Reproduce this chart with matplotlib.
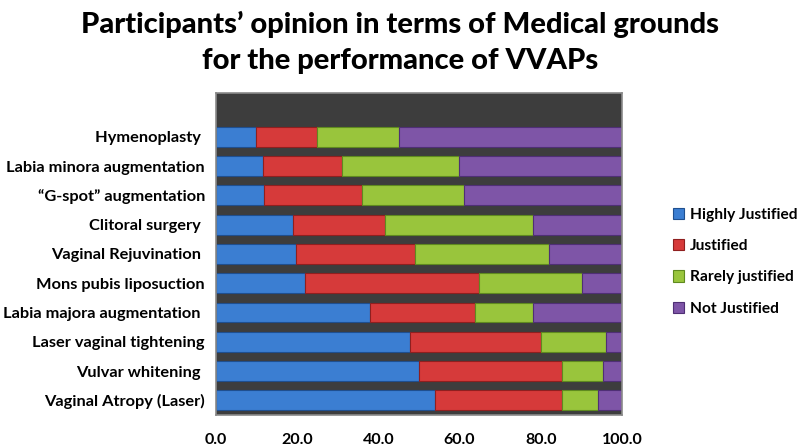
import matplotlib.pyplot as plt
import numpy as np

plt.rcParams["font.family"] = ["Lato", "DejaVu Sans"]
plt.rcParams["font.weight"] = "bold"

# procedures, bottom to top
procedures = ["Vaginal Atropy (Laser)", "Vulvar whitening ", "Laser vaginal tightening",
              "Labia majora augmentation ", "Mons pubis liposuction", "Vaginal Rejuvination ",
              "Clitoral surgery ", "\u201cG-spot\u201d augmentation", "Labia minora augmentation",
              "Hymenoplasty "]

highly = [54.0, 50.0, 47.9, 37.9, 21.8, 19.7, 18.9, 11.7, 11.6, 9.8]
justified = [31.1, 35.1, 32.2, 26.0, 43.1, 29.3, 22.8, 24.3, 19.4, 15.0]
rarely = [9.0, 10.3, 15.9, 14.2, 25.3, 32.9, 36.4, 25.0, 28.9, 20.2]
not_just = [5.9, 4.6, 4.0, 21.9, 9.8, 18.1, 21.9, 39.0, 40.1, 55.0]

series = ["Highly Justified", "Justified", "Rarely justified", "Not Justified"]
colors = ["#3b7ed2", "#d63a3a", "#99c53c", "#7e55a7"]
edges = ["#1f4f8f", "#8f1f1f", "#5f8a1f", "#4f2f75"]

fig = plt.figure(figsize=(8, 4.47), dpi=100)
ax = fig.add_axes([0.27, 0.0716, 0.5075, 0.7204])
ax.set_facecolor("#3d3d3d")

y = np.arange(len(procedures))
left = np.zeros(len(procedures))
for vals, name, c, ec in zip([highly, justified, rarely, not_just], series, colors, edges):
    ax.barh(y, vals, left=left, height=0.68, color=c, edgecolor=ec, linewidth=0.8, label=name)
    left += np.array(vals)

ax.set_xlim(0, 100)
ax.set_ylim(-0.5, len(procedures) + 0.5)
ax.set_yticks(y)
ax.set_yticklabels(procedures, fontsize=11.8)
ax.set_xticks(np.arange(0, 101, 20))
ax.set_xticklabels(["%.1f" % v for v in np.arange(0, 101, 20)], fontsize=11.5)
ax.tick_params(length=0, pad=8)
ax.tick_params(axis="x", pad=13)
for s in ax.spines.values():
    s.set_color("#8a8a8a")
    s.set_linewidth(1.2)

fig.suptitle("Participants\u2019 opinion in terms of Medical grounds\nfor the performance of VVAPs",
             fontsize=21, fontweight=900, y=0.975, linespacing=1.45)

leg = fig.legend(loc="upper left", bbox_to_anchor=(0.841, 0.535), frameon=False,
                 fontsize=11.2, handlelength=0.75, handleheight=0.75, handletextpad=0.35,
                 labelspacing=1.1, borderaxespad=0, borderpad=0)

fig.savefig("out.png", dpi=100)
